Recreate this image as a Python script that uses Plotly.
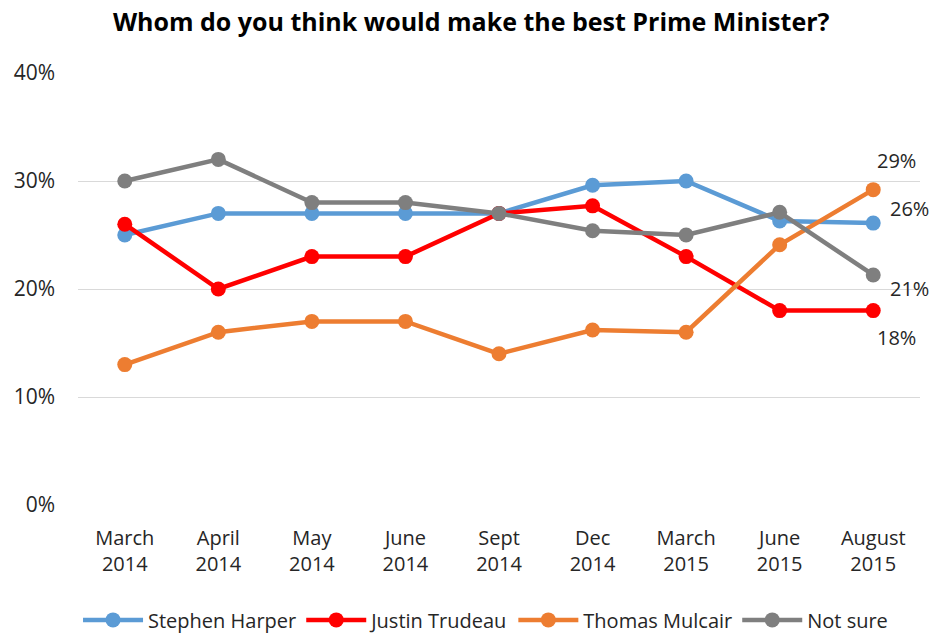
import plotly.graph_objects as go

periods = ["March<br>2014", "April<br>2014", "May<br>2014", "June<br>2014", "Sept<br>2014",
           "Dec<br>2014", "March<br>2015", "June<br>2015", "August<br>2015"]

harper = [25.0, 27.0, 27.0, 27.0, 27.0, 29.6, 30.0, 26.3, 26.1]
trudeau = [26.0, 20.0, 23.0, 23.0, 27.0, 27.7, 23.0, 18.0, 18.0]
mulcair = [13.0, 16.0, 17.0, 17.0, 14.0, 16.2, 16.0, 24.1, 29.2]
not_sure = [30.0, 32.0, 28.0, 28.0, 27.0, 25.4, 25.0, 27.1, 21.3]

series = [
    ("Stephen Harper", harper, "#5B9BD5"),
    ("Justin Trudeau", trudeau, "#FF0000"),
    ("Thomas Mulcair", mulcair, "#ED7D31"),
    ("Not sure", not_sure, "#7F7F7F"),
]

# offsets of the end-of-line value labels (pixels)
label_offsets = {
    "Stephen Harper": (36, 15),
    "Justin Trudeau": (23, -27),
    "Thomas Mulcair": (23, 29),
    "Not sure": (36, -14),
}

fig = go.Figure()
for name, vals, color in series:
    fig.add_trace(go.Scatter(
        x=periods, y=vals, name=name, mode="lines+markers",
        line=dict(color=color, width=4.5),
        marker=dict(color=color, size=15),
    ))

for name, vals, color in series:
    dx, dy = label_offsets[name]
    fig.add_annotation(
        x=periods[-1], y=vals[-1], text=f"{vals[-1]:.0f}%",
        showarrow=False, xshift=dx, yshift=dy,
        font=dict(family="Open Sans", size=20, color="#262626"),
    )

fig.update_layout(
    width=933, height=633,
    margin=dict(l=78, r=13, t=73, b=128, autoexpand=False),
    paper_bgcolor="white", plot_bgcolor="white",
    title=dict(
        text="<b>Whom do you think would make the best Prime Minister?</b>",
        x=0.505, xanchor="center", y=0.965, yanchor="middle",
        font=dict(family="Open Sans", size=25, color="black"),
    ),
    xaxis=dict(
        type="category", range=[-0.5, 8.5], showgrid=False, zeroline=False,
        showline=False, ticks="", automargin=False,
        tickfont=dict(family="Open Sans", size=20, color="#262626"),
        ticklabelstandoff=19,
    ),
    yaxis=dict(
        range=[0, 40], dtick=10, ticksuffix="%", showgrid=True,
        gridcolor="#D9D9D9", gridwidth=1, zeroline=False, showline=False,
        automargin=False,
        tickfont=dict(family="Open Sans", size=21, color="#262626"),
        ticklabelstandoff=22,
    ),
    legend=dict(
        orientation="h", x=0.484, xanchor="center", y=-0.266, yanchor="middle",
        font=dict(family="Open Sans", size=20, color="#262626"),
        itemwidth=60, tracegroupgap=0,
    ),
    showlegend=True,
)

fig.write_html("out.html")
